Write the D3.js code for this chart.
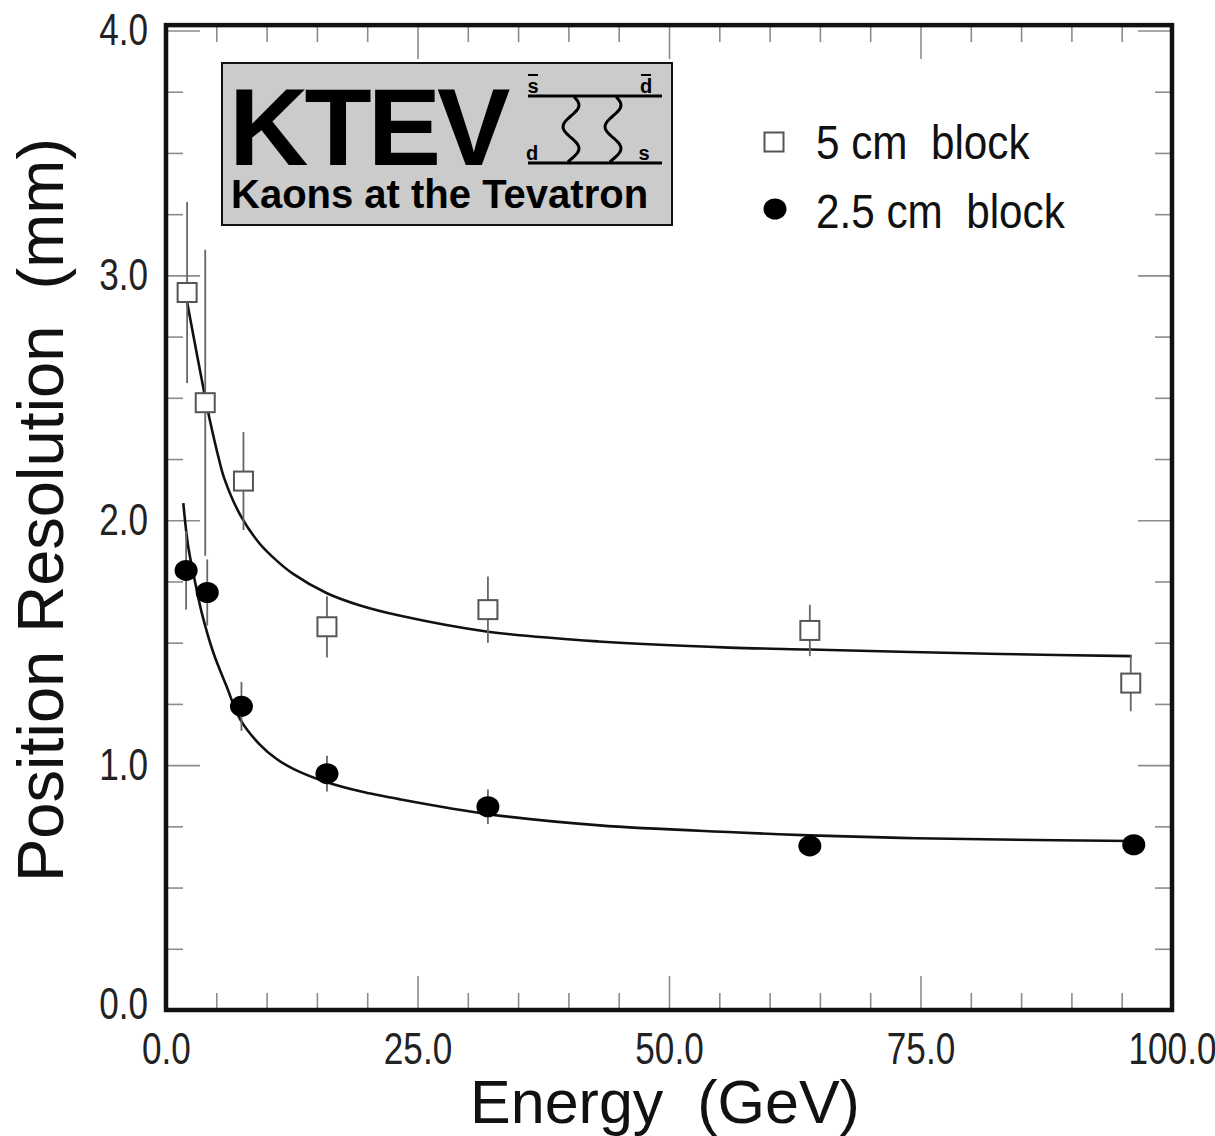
<!DOCTYPE html>
<html>
<head>
<meta charset="utf-8">
<script src="https://cdn.jsdelivr.net/npm/d3@7"></script>
<style>
	body { margin: 0; background: #fff; }
	svg { display: block; }
	text { white-space: pre; }
</style>
</head>
<body>
<div id="draw"></div>
<script>
// NOTE values
// 5 cm block (open squares)
const sqEnergy = [2.1, 3.9, 7.7, 16, 32, 64, 95.9];
const sqRes = [2.93, 2.48, 2.16, 1.565, 1.635, 1.55, 1.335];
const sqErr = [0.37, 0.625, 0.2, 0.125, 0.135, 0.105, 0.115];

// 2.5 cm block (filled circles)
const ciEnergy = [2.0, 4.1, 7.5, 16, 32, 64, 96.2];
const ciRes = [1.795, 1.705, 1.24, 0.965, 0.83, 0.67, 0.675];
const ciErr = [0.16, 0.135, 0.1, 0.073, 0.07, 0.03, 0.03];

// fitted curves
const fit5Energy = [2.1, 3.9, 4.3, 5.2, 5.8, 7.4, 9.3, 11, 12.6, 16, 19.3, 23.3, 32, 43, 56, 64, 73, 83, 96];
const fit5Res = [2.89, 2.5, 2.42, 2.26, 2.17, 2.02, 1.905, 1.835, 1.782, 1.702, 1.652, 1.61, 1.545, 1.505, 1.48, 1.472, 1.463, 1.454, 1.445];
const fit25Energy = [1.72, 2.2, 2.9, 3.55, 4.7, 6.0, 7.36, 9.3, 11, 12.65, 16, 19.3, 23.3, 32, 43.1, 56.4, 64, 73, 82.9, 96];
const fit25Res = [2.07, 1.895, 1.746, 1.623, 1.46, 1.324, 1.188, 1.085, 1.025, 0.985, 0.93, 0.893, 0.86, 0.8, 0.754, 0.726, 0.713, 0.703, 0.696, 0.69];

// ticks
const xMajor = [0, 25, 50, 75, 100];
const xMinor = [5, 10, 15, 20, 30, 35, 40, 45, 55, 60, 65, 70, 80, 85, 90, 95];
const yMajor = [0, 1, 2, 3, 4];
const yMinor = [0.25, 0.5, 0.75, 1.25, 1.5, 1.75, 2.25, 2.5, 2.75, 3.25, 3.5, 3.75];

const legendLabels = ['5 cm  block', '2.5 cm  block'];

const width = 1215,
	height = 1136;

const sans = '"Liberation Sans", Arial, Helvetica, sans-serif';
const squeeze = 0.78; // tick labels are a condensed face

const svg = d3
	.select('#draw')
	.append('svg')
	.attr('width', width)
	.attr('height', height);

const x = d3.scaleLinear().domain([0, 100]).range([166, 1172]);
const y = d3.scaleLinear().domain([0, 4]).range([1010, 30.5]);
const frameTop = y(4.022);

// axes, ticks pointing inwards
function drawAxis(axis, tr, labels) {
	const g = svg.append('g').attr('transform', tr).call(axis);
	g.select('.domain').remove();
	g.selectAll('.tick line').attr('stroke', '#8c8c8c').attr('stroke-width', 1.6);
	if (!labels) {
		g.selectAll('.tick text').remove();
	} else {
		g.selectAll('.tick text')
			.style('font-family', sans)
			.style('font-size', '45px')
			.attr('fill', '#222')
			.attr('x', function () {
				return +d3.select(this).attr('x') / squeeze;
			})
			.attr('transform', 'scale(' + squeeze + ',1)');
	}
	return g;
}

const fmt = d3.format('.1f');

drawAxis(d3.axisBottom(x).tickValues(xMajor).tickSize(-34).tickPadding(22).tickFormat(fmt), 'translate(0,' + y(0) + ')', true);
drawAxis(d3.axisBottom(x).tickValues(xMinor).tickSize(-17), 'translate(0,' + y(0) + ')', false);
drawAxis(d3.axisTop(x).tickValues(xMajor).tickSize(-34), 'translate(0,' + frameTop + ')', false);
drawAxis(d3.axisTop(x).tickValues(xMinor).tickSize(-17), 'translate(0,' + frameTop + ')', false);

const yLab = drawAxis(d3.axisLeft(y).tickValues(yMajor).tickSize(-34).tickPadding(18).tickFormat(fmt), 'translate(' + x(0) + ',0)', true);
// the 0.0 label sits a little above its tick
yLab.selectAll('.tick text').filter((d) => d === 0).attr('y', -6);
drawAxis(d3.axisLeft(y).tickValues(yMinor).tickSize(-17), 'translate(' + x(0) + ',0)', false);
drawAxis(d3.axisRight(y).tickValues(yMajor).tickSize(-34), 'translate(' + x(100) + ',0)', false);
drawAxis(d3.axisRight(y).tickValues(yMinor).tickSize(-17), 'translate(' + x(100) + ',0)', false);

// frame
svg
	.append('rect')
	.attr('x', x(0))
	.attr('y', frameTop)
	.attr('width', x(100) - x(0))
	.attr('height', y(0) - frameTop)
	.attr('fill', 'none')
	.attr('stroke', '#111')
	.attr('stroke-width', 4.5);

// axis titles
svg
	.append('text')
	.attr('x', 665)
	.attr('y', 1123)
	.attr('text-anchor', 'middle')
	.style('font-family', sans)
	.style('font-size', '61px')
	.attr('fill', '#111')
	.text('Energy  (GeV)');

svg
	.append('text')
	.attr('transform', 'translate(63,510) rotate(-90)')
	.attr('text-anchor', 'middle')
	.style('font-family', sans)
	.style('font-size', '65px')
	.attr('fill', '#111')
	.text('Position Resolution  (mm)');

// fit curves
const line = d3
	.line()
	.x((d) => x(d[0]))
	.y((d) => y(d[1]))
	.curve(d3.curveCatmullRom.alpha(0.5));

[
	[fit5Energy, fit5Res],
	[fit25Energy, fit25Res],
].forEach(function (s) {
	svg
		.append('path')
		.datum(d3.zip(s[0], s[1]))
		.attr('d', line)
		.attr('fill', 'none')
		.attr('stroke', '#111')
		.attr('stroke-width', 2.6);
});

// error bars
const sqData = d3.zip(sqEnergy, sqRes, sqErr);
const ciData = d3.zip(ciEnergy, ciRes, ciErr);

svg
	.selectAll('.err')
	.data(sqData.concat(ciData))
	.enter()
	.append('line')
	.attr('class', 'err')
	.attr('x1', (d) => x(d[0]))
	.attr('x2', (d) => x(d[0]))
	.attr('y1', (d) => y(d[1] + d[2]))
	.attr('y2', (d) => y(d[1] - d[2]))
	.attr('stroke', '#666')
	.attr('stroke-width', 1.8);

// markers
const sq = 19;
svg
	.selectAll('.sq')
	.data(sqData)
	.enter()
	.append('rect')
	.attr('class', 'sq')
	.attr('x', (d) => x(d[0]) - sq / 2)
	.attr('y', (d) => y(d[1]) - sq / 2)
	.attr('width', sq)
	.attr('height', sq)
	.attr('fill', '#fff')
	.attr('stroke', '#555')
	.attr('stroke-width', 2);

svg
	.selectAll('.dot')
	.data(ciData)
	.enter()
	.append('ellipse')
	.attr('class', 'dot')
	.attr('cx', (d) => x(d[0]))
	.attr('cy', (d) => y(d[1]))
	.attr('rx', 11.5)
	.attr('ry', 10.5)
	.attr('fill', '#000');

// legend
svg
	.append('rect')
	.attr('x', 764.5)
	.attr('y', 132.5)
	.attr('width', sq)
	.attr('height', sq)
	.attr('fill', '#fff')
	.attr('stroke', '#555')
	.attr('stroke-width', 2);
svg.append('ellipse').attr('cx', 775).attr('cy', 209).attr('rx', 11.5).attr('ry', 10.5).attr('fill', '#000');

const legSqueeze = 0.88;
svg
	.selectAll('.legtext')
	.data(legendLabels)
	.enter()
	.append('text')
	.attr('class', 'legtext')
	.attr('x', 816 / legSqueeze)
	.attr('y', (d, i) => 159 + i * 69)
	.attr('transform', 'scale(' + legSqueeze + ',1)')
	.style('font-family', sans)
	.style('font-size', '48px')
	.attr('fill', '#111')
	.text((d) => d);

// NOTE KTEV logo box
const logo = svg.append('g');
logo
	.append('rect')
	.attr('x', 222)
	.attr('y', 63)
	.attr('width', 450)
	.attr('height', 162)
	.attr('fill', '#cbcbcb')
	.attr('stroke', '#111')
	.attr('stroke-width', 2);

logo
	.append('text')
	.attr('x', 229)
	.attr('y', 165)
	.style('font-family', sans)
	.style('font-weight', 'bold')
	.style('font-size', '110px')
	.style('letter-spacing', '-4px')
	.attr('fill', '#000')
	.text('KTEV');

logo
	.append('text')
	.attr('x', 231)
	.attr('y', 208)
	.style('font-family', sans)
	.style('font-weight', 'bold')
	.style('font-size', '40px')
	.attr('fill', '#000')
	.text('Kaons at the Tevatron');

// box diagram quark lines
[96, 163].forEach(function (ly) {
	logo
		.append('line')
		.attr('x1', 528)
		.attr('x2', 662)
		.attr('y1', ly)
		.attr('y2', ly)
		.attr('stroke', '#000')
		.attr('stroke-width', 3);
});

// gluon wiggles
const wiggle = d3
	.line()
	.x((d) => d[0])
	.y((d) => d[1])
	.curve(d3.curveBasis);
[571, 613].forEach(function (cx) {
	const pts = [];
	for (let i = 0; i <= 40; i++) {
		const t = i / 40;
		pts.push([cx + 8 * Math.sin(t * Math.PI * 3 + 0.4), 97 + t * 65]);
	}
	logo
		.append('path')
		.attr('d', wiggle(pts))
		.attr('fill', 'none')
		.attr('stroke', '#000')
		.attr('stroke-width', 3);
});

const quarkLabels = [
	{ t: 's', x: 533, y: 93, bar: true },
	{ t: 'd', x: 646, y: 93, bar: true },
	{ t: 'd', x: 532, y: 160, bar: false },
	{ t: 's', x: 644, y: 160, bar: false },
];
quarkLabels.forEach(function (q) {
	logo
		.append('text')
		.attr('x', q.x)
		.attr('y', q.y)
		.attr('text-anchor', 'middle')
		.style('font-family', sans)
		.style('font-weight', 'bold')
		.style('font-size', '20px')
		.attr('fill', '#000')
		.text(q.t);
	if (q.bar) {
		logo
			.append('line')
			.attr('x1', q.x - 5)
			.attr('x2', q.x + 5)
			.attr('y1', 75)
			.attr('y2', 75)
			.attr('stroke', '#000')
			.attr('stroke-width', 2);
	}
});
</script>
</body>
</html>
